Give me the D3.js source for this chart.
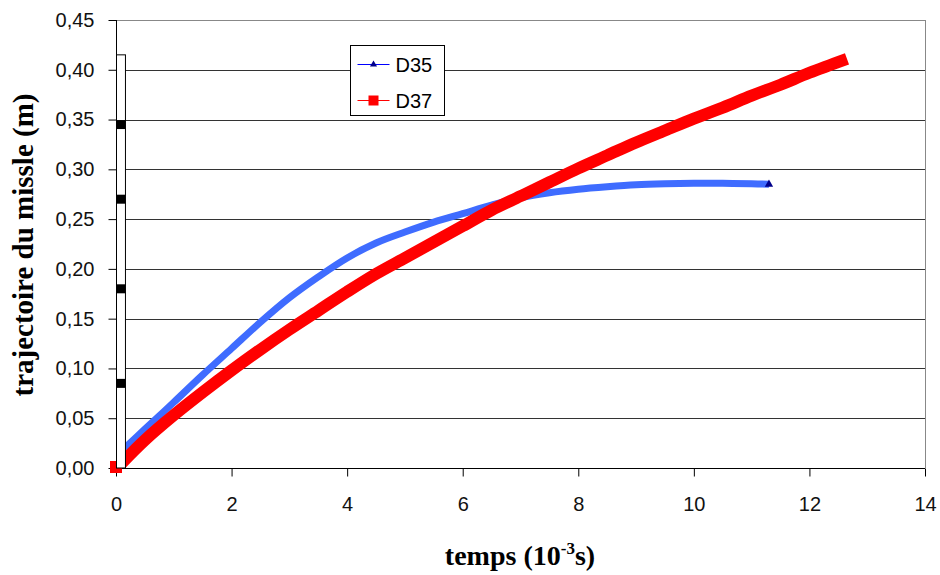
<!DOCTYPE html>
<html><head><meta charset="utf-8">
<script src="https://cdn.jsdelivr.net/npm/d3@7/dist/d3.min.js"></script>
<style>body{margin:0;background:#fff}svg{display:block}</style>
</head><body>
<svg id="c" width="940" height="575"></svg>
<script>
const xTicks = [0, 2, 4, 6, 8, 10, 12, 14];
const yTicks = [0, 0.05, 0.10, 0.15, 0.20, 0.25, 0.30, 0.35, 0.40, 0.45];
const d35 = [[0.15,0.020],[0.5,0.039],[1,0.066],[1.5,0.0935],[2,0.120],[2.5,0.1465],[3,0.171],[3.5,0.192],[4,0.211],[4.5,0.226],[5,0.237],[5.5,0.247],[6,0.2555],[6.5,0.264],[7,0.2715],[7.5,0.2765],[8,0.280],[8.5,0.2825],[9,0.2845],[9.5,0.2855],[10,0.286],[10.5,0.286],[11,0.2855],[11.3,0.285]];
const d37 = [[0.1,0.005],[0.5,0.028],[1,0.053],[1.5,0.076],[2,0.098],[2.5,0.119],[3,0.139],[3.5,0.158],[4,0.177],[4.5,0.195],[5,0.211],[5.5,0.227],[6,0.243],[6.5,0.259],[7,0.273],[7.5,0.287],[8,0.301],[8.5,0.314],[9,0.327],[9.5,0.339],[10,0.351],[10.5,0.362],[11,0.374],[11.5,0.385],[12,0.397],[12.65,0.411]];
const barTop = 0.415, barWidth = 0.155;
const barMarks = [0.345, 0.27, 0.18, 0.085];
const seriesNames = ["D35", "D37"];

const svg = d3.select("#c");
const L = 116, R = 925, T = 20, B = 468;
const x = d3.scaleLinear().domain([0, 14]).range([L, R]);
const y = d3.scaleLinear().domain([0, 0.45]).range([B, T]);
const fmt = d => d3.format(".2f")(d).replace(".", ",");

// plot frame (right)
svg.append("line").attr("x1", R+0.5).attr("x2", R+0.5).attr("y1", T).attr("y2", B).attr("stroke", "#888");
// gridlines
svg.append("g").selectAll("line").data(yTicks.filter(d => d > 0)).join("line")
  .attr("x1", L).attr("x2", R).attr("y1", d => Math.round(y(d))+0.5).attr("y2", d => Math.round(y(d))+0.5)
  .attr("stroke", d => d === 0.45 ? "#888" : "#333").attr("stroke-width", 1);

// axes
const yAxis = d3.axisLeft(y).tickValues(yTicks).tickFormat(fmt).tickSize(8).tickPadding(14);
const gy = svg.append("g").attr("transform", `translate(${L+0.5},0)`).call(yAxis);
const xAxis = d3.axisBottom(x).tickValues(xTicks).tickSize(8).tickPadding(20);
const gx = svg.append("g").attr("transform", `translate(0,${B+0.5})`).call(xAxis);
[gy, gx].forEach(g => {
  g.select(".domain").attr("stroke", "#000");
  g.selectAll(".tick line").attr("stroke", "#000");
  g.selectAll("text").attr("font-family", "Liberation Sans, Arial, sans-serif").attr("font-size", 20).attr("fill", "#111");
});
gy.select(".domain").attr("d", `M0,${T}V${B}`);
gx.select(".domain").attr("d", `M${L},0H${R}`);

// red point at origin
svg.append("rect").attr("x", x(0)-6).attr("y", y(0)-7).attr("width", 12).attr("height", 12).attr("fill", "#f00");

// lines
const line = d3.line().x(d => x(d[0])).y(d => y(d[1])).curve(d3.curveCatmullRom.alpha(0.5));
svg.append("path").datum(d35).attr("d", line).attr("fill", "none").attr("stroke", "#3F6CFF").attr("stroke-width", 7);
const last = d35[d35.length-1];
svg.append("path").attr("d", d3.symbol(d3.symbolTriangle, 30)()).attr("transform", `translate(${x(last[0])},${y(last[1])})`).attr("fill", "#00008B");
svg.append("path").datum(d37).attr("d", line).attr("fill", "none").attr("stroke", "#FF0000").attr("stroke-width", 12);

// white bar with black marks
svg.append("rect").attr("x", x(0)+0.5).attr("y", y(barTop)).attr("width", x(barWidth)-x(0)).attr("height", y(0)-y(barTop))
  .attr("fill", "#fff").attr("stroke", "#000").attr("stroke-width", 1);
svg.append("g").selectAll("rect").data(barMarks).join("rect")
  .attr("x", x(0)+0.5).attr("y", d => y(d)-4.5).attr("width", x(barWidth)-x(0)).attr("height", 9).attr("fill", "#000");

// legend
const lg = svg.append("g").attr("transform", "translate(350.5,45.5)");
lg.append("rect").attr("width", 94).attr("height", 70).attr("fill", "#fff").attr("stroke", "#000");
const colors = ["#0000FF", "#FF0000"];
seriesNames.forEach((n, i) => {
  const cy = 19 + i * 36;
  lg.append("line").attr("x1", 7).attr("x2", 39).attr("y1", cy).attr("y2", cy).attr("stroke", colors[i]).attr("stroke-width", 1);
  if (i === 0) lg.append("path").attr("d", d3.symbol(d3.symbolTriangle, 22)()).attr("transform", `translate(23,${cy})`).attr("fill", "#00008B");
  else lg.append("rect").attr("x", 18).attr("y", cy-5).attr("width", 10).attr("height", 10).attr("fill", "#f00");
  lg.append("text").attr("x", 45).attr("y", cy+7).text(n).attr("font-family", "Liberation Sans, Arial, sans-serif").attr("font-size", 20).attr("fill", "#000");
});

// titles
svg.append("text").attr("transform", `translate(33,${245}) rotate(-90)`).attr("text-anchor", "middle")
  .attr("font-family", "Liberation Serif, Times New Roman, serif").attr("font-weight", "bold").attr("font-size", 29)
  .text("trajectoire du missle (m)");
const xt = svg.append("text").attr("x", 520).attr("y", 565).attr("text-anchor", "middle")
  .attr("font-family", "Liberation Serif, Times New Roman, serif").attr("font-weight", "bold").attr("font-size", 28);
xt.append("tspan").text("temps (10");
xt.append("tspan").attr("dy", -11).attr("font-size", 17).text("-3");
xt.append("tspan").attr("dy", 11).text("s)");
</script>
</body></html>
